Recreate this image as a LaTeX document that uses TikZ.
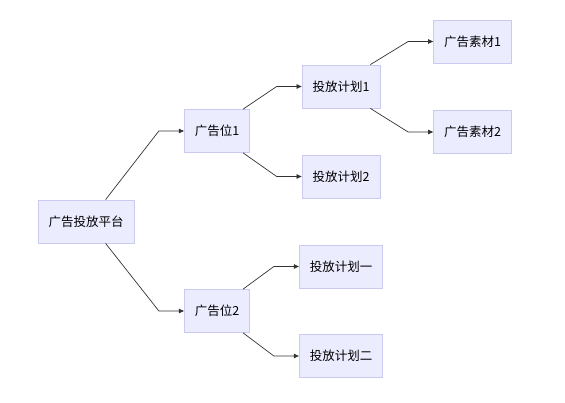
\documentclass[tikz,border=0pt]{standalone}
\usepackage{fontspec}
\setmainfont{Noto Sans CJK SC}
\usetikzlibrary{arrows.meta,calc}
\definecolor{boxfill}{HTML}{ECECFF}
\definecolor{boxline}{HTML}{C9C9F2}
\definecolor{linkcol}{HTML}{333333}
\begin{document}
\begin{tikzpicture}[x=1pt, y=-1pt, font=\fontsize{12.5}{14}\selectfont, line join=round,
	box/.style={draw=boxline, fill=boxfill, line width=0.8pt, minimum height=43pt, inner xsep=10.5pt, inner ysep=0pt},
	link/.style={draw=linkcol, line width=0.7pt, -{Triangle[length=5pt,width=4.5pt]}}]
	\def\bend{25} % Khoảng gấp trước mũi tên
	\useasboundingbox (0,0) rectangle (565,403);
	% cột 1 và cột 2
	\node[box] (plat) at (86,221.5) {广告投放平台};
	\node[box] (pos1) at (217,131) {广告位1};
	\node[box] (pos2) at (217,311) {广告位2};
	% cột 3
	\node[box] (plan1) at (341,86.5) {投放计划1};
	\node[box] (plan2) at (341,176.5) {投放计划2};
	\node[box] (plana) at (341,266.5) {投放计划一};
	\node[box] (planb) at (341,356) {投放计划二};
	% cột 4
	\node[box] (mat1) at (472.5,41.5) {广告素材1};
	\node[box] (mat2) at (472.5,132) {广告素材2};
	% các đường nối
	\draw[link] ($(plat.north west)+(68,0)$) -- ($(pos1.west)+(-\bend,0)$) -- (pos1.west);
	\draw[link] ($(plat.south west)+(68,0)$) -- ($(pos2.west)+(-\bend,0)$) -- (pos2.west);
	\draw[link] ($(pos1.north east)+(-7,0)$) -- ($(plan1.west)+(-\bend,0)$) -- (plan1.west);
	\draw[link] ($(pos1.south east)+(-7,0)$) -- ($(plan2.west)+(-\bend,0)$) -- (plan2.west);
	\draw[link] ($(pos2.north east)+(-7,0)$) -- ($(plana.west)+(-\bend,0)$) -- (plana.west);
	\draw[link] ($(pos2.south east)+(-7,0)$) -- ($(planb.west)+(-\bend,0)$) -- (planb.west);
	\draw[link] ($(plan1.north east)+(-10,0)$) -- ($(mat1.west)+(-\bend,0)$) -- (mat1.west);
	\draw[link] ($(plan1.south east)+(-10,0)$) -- ($(mat2.west)+(-\bend,0)$) -- (mat2.west);
\end{tikzpicture}
\end{document}
